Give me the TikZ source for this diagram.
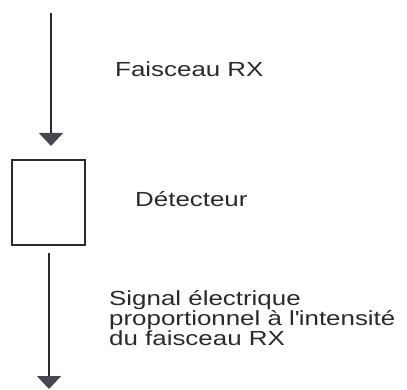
\documentclass[tikz,border=0pt]{standalone}
\usepackage{fontspec}
\setmainfont{Liberation Sans}[FakeStretch=1.27]
\usetikzlibrary{arrows.meta}
\definecolor{ink}{HTML}{2A2A2E}
\definecolor{headc}{HTML}{4A4650}
\tikzset{
  arr/.style={draw=ink, line width=1.6pt, -{Triangle[width=24pt,length=13pt,fill=headc,color=headc]}, shorten >=0pt},
  boxst/.style={draw=ink, line width=1.6pt, minimum width=73pt, minimum height=85pt, inner sep=0pt},
  lbl/.style={anchor=base west, inner sep=0pt, text=ink, font=\fontsize{20.4}{19}\selectfont}
}
\begin{document}
\begin{tikzpicture}[x=1pt,y=-1pt]
\useasboundingbox (0,0) rectangle (407,390);
\node[boxst] (det) at (48.5,202.5) {};
\coordinate (a1) at (51,13);
\coordinate (a2) at (51,146);
\coordinate (b1) at (49,253);
\coordinate (b2) at (49,389);
\draw[arr] (a1) -- (a2);
\draw[arr] (b1) -- (b2);
\node[lbl] (fx) at (115,77) {Faisceau RX};
\node[lbl] (dt) at (135,207) {Détecteur};
\node[lbl] (s1) at (109,305) {Signal électrique};
\node[lbl] (s2) at (109,325) {proportionnel à l\textquotesingle intensité};
\node[lbl] (s3) at (109,345) {du faisceau RX};
\end{tikzpicture}
\end{document}
